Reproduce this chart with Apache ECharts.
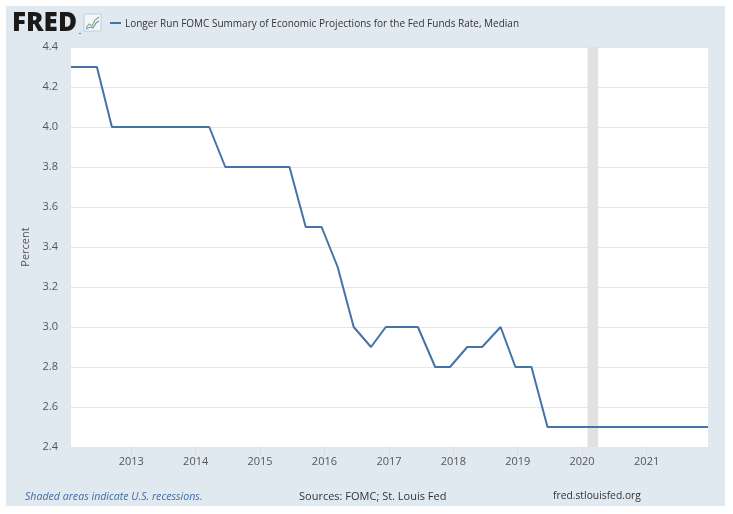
<!DOCTYPE html>
<html>
<head>
<meta charset="utf-8">
<script src="https://cdn.jsdelivr.net/npm/echarts@6/dist/echarts.min.js"></script>
<style>
html,body{margin:0;padding:0;background:#fff;}
#c{width:733px;height:514px;}
</style>
</head>
<body>
<div id="c"></div>
<script>
const dates = ["2012-01-25","2012-04-25","2012-06-20","2012-09-13","2012-12-12",
"2013-03-20","2013-06-19","2013-09-18","2013-12-18",
"2014-03-19","2014-06-18","2014-09-17","2014-12-17",
"2015-03-18","2015-06-17","2015-09-17","2015-12-16",
"2016-03-16","2016-06-15","2016-09-21","2016-12-14",
"2017-03-15","2017-06-14","2017-09-20","2017-12-13",
"2018-03-21","2018-06-13","2018-09-26","2018-12-19",
"2019-03-20","2019-06-19","2019-09-18","2019-12-11",
"2020-06-10","2020-09-16","2020-12-16",
"2021-03-17","2021-06-16","2021-09-22","2021-12-15"];
const values = [4.3,4.3,4.3,4.0,4.0,
4.0,4.0,4.0,4.0,
4.0,3.8,3.8,3.8,
3.8,3.8,3.5,3.5,
3.3,3.0,2.9,3.0,
3.0,3.0,2.8,2.8,
2.9,2.9,3.0,2.8,
2.8,2.5,2.5,2.5,
2.5,2.5,2.5,
2.5,2.5,2.5,2.5];
const recessions = [["2020-02-01","2020-04-01"]];
const yTicks = {min:2.4, max:4.4, interval:0.2};
const seriesName = "Longer Run FOMC Summary of Economic Projections for the Fed Funds Rate, Median";

const chart = echarts.init(document.getElementById('c'));
const font = "'Open Sans', 'Noto Sans', sans-serif";
const DAY = 86400000;
chart.setOption({
  animation:false,
  backgroundColor:'#ffffff',
  textStyle:{fontFamily:font},
  graphic:[
    {type:'rect', z:-10, silent:true, shape:{x:6,y:6,width:719,height:500}, style:{fill:'#e1e9f0'}},
    {type:'text', left:12, top:11, style:{text:'FRED', font:"900 26px 'Open Sans', 'Liberation Sans', sans-serif", fill:'#1a1a1a'}},
    {type:'text', left:79, top:29, style:{text:'.', font:"bold 7px sans-serif", fill:'#1a1a1a'}},
    {type:'rect', shape:{x:84,y:14,width:17,height:17}, style:{fill:'#f4f7f9', stroke:'#b9c4cc', lineWidth:0.8}},
    {type:'polyline', shape:{points:[[86,28],[89,24],[92,26],[95,20],[99,17]]}, style:{stroke:'#7fb07a', lineWidth:1.1, fill:null}},
    {type:'polyline', shape:{points:[[86,29],[90,27],[93,28],[96,23],[99,21]]}, style:{stroke:'#6d94c3', lineWidth:1.1, fill:null}},
    {type:'line', shape:{x1:110,y1:23,x2:121,y2:23}, style:{stroke:'#4572a7', lineWidth:2}},
    {type:'text', left:125, top:19, style:{text:seriesName, font:"10px "+font, fill:'#333333'}},
    {type:'text', left:25, top:491, style:{text:'Shaded areas indicate U.S. recessions.', font:"italic 10.6px "+font, fill:'#3e6ea5'}},
    {type:'text', left:299, top:491, style:{text:'Sources: FOMC; St. Louis Fed', font:"11px "+font, fill:'#333333'}},
    {type:'text', left:553, top:491, style:{text:'fred.stlouisfed.org', font:"10.3px "+font, fill:'#333333'}}
  ],
  grid:{left:71, top:47, right:25, bottom:67, show:true, backgroundColor:'#ffffff', borderWidth:0},
  xAxis:{
    type:'time',
    min:dates[0], max:dates[dates.length-1],
    minInterval:365*DAY, maxInterval:366*DAY,
    axisLine:{show:true, lineStyle:{color:'#e6e6e6', width:1}},
    axisTick:{show:true, length:8, lineStyle:{color:'#d8dde2'}},
    axisLabel:{formatter:'{yyyy}', color:'#555555', fontSize:11, margin:9, fontFamily:font},
    splitLine:{show:false}
  },
  yAxis:{
    type:'value', min:yTicks.min, max:yTicks.max, interval:yTicks.interval,
    name:'Percent', nameLocation:'middle', nameGap:39, nameRotate:90,
    nameTextStyle:{color:'#555555', fontSize:11, fontFamily:font},
    axisLine:{show:false}, axisTick:{show:false},
    axisLabel:{color:'#555555', fontSize:11, margin:13, formatter:v=>v.toFixed(1), fontFamily:font},
    splitLine:{lineStyle:{color:'#e6e6e6', width:1}}
  },
  series:[{
    name:seriesName, type:'line', showSymbol:false,
    data:dates.map((d,i)=>[d, values[i]]),
    lineStyle:{color:'#4572a7', width:2}, itemStyle:{color:'#4572a7'},
    markArea:{silent:true, itemStyle:{color:'#e1e1e1'}, data:recessions.map(r=>[{xAxis:r[0]},{xAxis:r[1]}])},
    z:3
  }]
});
</script>
</body>
</html>
